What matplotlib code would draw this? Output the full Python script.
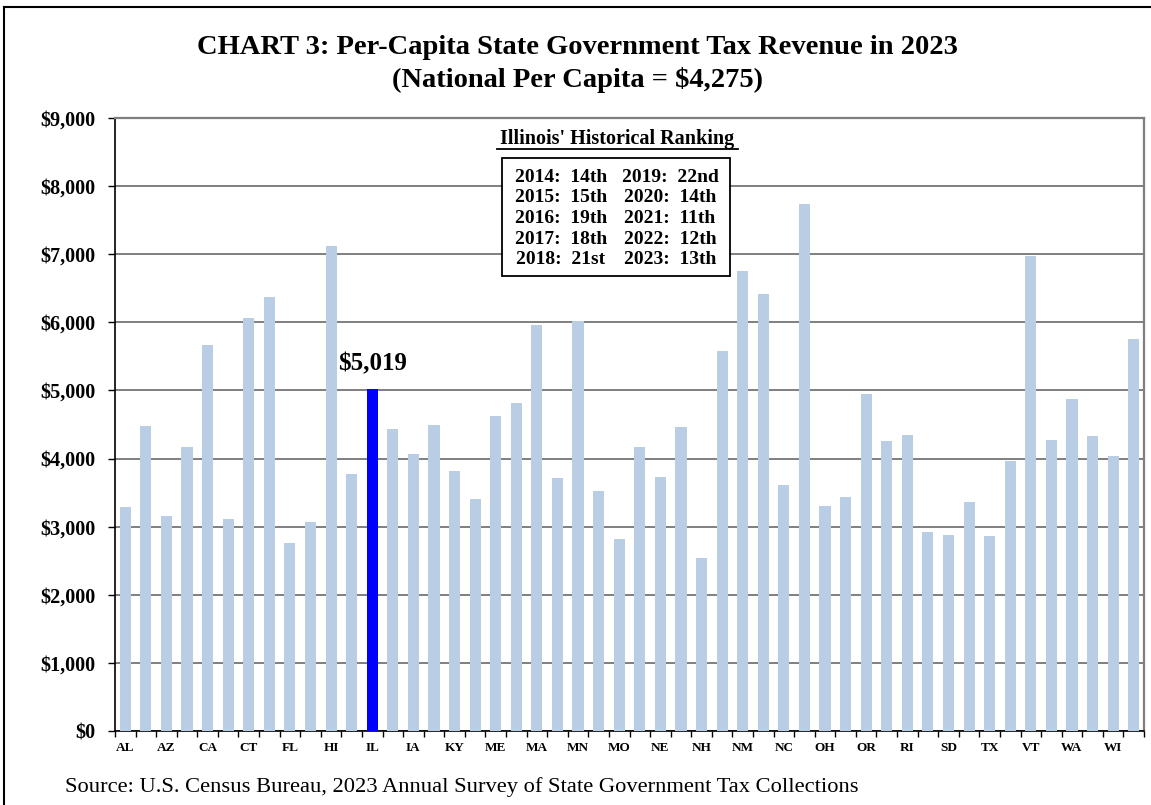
import matplotlib
matplotlib.use("Agg")
import matplotlib.pyplot as plt
from matplotlib.lines import Line2D

states = ["AL","AK","AZ","AR","CA","CO","CT","DE","FL","GA","HI","ID","IL","IN","IA","KS","KY","LA","ME","MD",
          "MA","MI","MN","MS","MO","MT","NE","NV","NH","NJ","NM","NY","NC","ND","OH","OK","OR","PA","RI","SC",
          "SD","TN","TX","UT","VT","VA","WA","WV","WI","WY"]
values = [3290,4475,3160,4172,5674,3106,6070,6373,2754,3071,7117,3771,5019,4431,4060,4486,3815,3404,4632,4823,
          5957,3712,6026,3526,2813,4172,3722,4456,2543,5576,6760,6412,3605,7733,3302,3429,4945,4265,4343,2925,
          2871,3356,2861,3962,6970,4275,4880,4333,4031,5748]
highlight = "IL"
yticks = list(range(0, 9001, 1000))
rank_left = ["2014:  14th", "2015:  15th", "2016:  19th", "2017:  18th", "2018:  21st"]
rank_right = ["2019:  22nd", "2020:  14th", "2021:  11th", "2022:  12th", "2023:  13th"]

SERIF = ["Liberation Serif", "DejaVu Serif"]
plt.rcParams['font.family'] = SERIF

W, H = 1151, 805
fig = plt.figure(figsize=(W/100, H/100), dpi=100)
ax = fig.add_axes([115/W, 1-731/H, (1144-115)/W, (731-118)/H])

x = list(range(len(states)))
colors = ["#0000FF" if s == highlight else "#B9CDE5" for s in states]
ax.bar(x, values, width=0.54, color=colors, edgecolor="none", zorder=3)

ax.set_xlim(-0.5, len(states)-0.5)
ax.set_ylim(0, 9000)
ax.set_yticks(yticks)
ax.set_yticklabels([f"${v:,}" for v in yticks], fontsize=14.5, fontweight="bold")
ax.yaxis.grid(True, color="#7F7F7F", linewidth=1.4, zorder=0)
ax.set_axisbelow(True)

ax.set_xticks(x[::2])
ax.set_xticklabels(states[::2], fontsize=9.5, fontweight="bold")
ax.tick_params(axis="x", which="major", length=0, pad=8)
ax.set_xticks([i - 0.5 for i in range(len(states)+1)], minor=True)
ax.tick_params(axis="x", which="minor", length=4, width=1, direction="out")
ax.tick_params(axis="y", length=5, width=1, direction="out", pad=9)

for side in ["left", "bottom"]:
    ax.spines[side].set_color("black")
    ax.spines[side].set_linewidth(1.2)
for side in ["top", "right"]:
    ax.spines[side].set_color("#7F7F7F")
    ax.spines[side].set_linewidth(1.6)

# highlight label
hi = states.index(highlight)
ax.annotate(f"${values[hi]:,}", xy=(hi, values[hi]), xytext=(0, 10), textcoords="offset points",
            ha="center", va="bottom", fontsize=18, fontweight="bold")

# title
fig.text(577/W, 1-47/H, "CHART 3: Per-Capita State Government Tax Revenue in 2023",
         ha="center", va="center", fontsize=20.5, fontweight="bold")
fig.text(577/W, 1-80/H, "(National Per Capita = $4,275)",
         ha="center", va="center", fontsize=20.5, fontweight="bold")

# ranking box
fig.text(617/W, 1-139/H, "Illinois' Historical Ranking", ha="center", va="center",
         fontsize=14.5, fontweight="bold")
fig.add_artist(Line2D([497/W, 738/W], [1-149/H, 1-149/H], color="black", lw=1.3))
fig.add_artist(plt.Rectangle((502/W, 1-276/H), (730-502)/W, (276-158)/H, transform=fig.transFigure,
                             facecolor="white", edgecolor="black", lw=1.3, zorder=5))
for i, (l, r) in enumerate(zip(rank_left, rank_right)):
    yy = 1 - (177 + i*20.7)/H
    fig.text(561/W, yy, l, ha="center", va="center", fontsize=14, fontweight="bold", zorder=6)
    fig.text(670/W, yy, r, ha="center", va="center", fontsize=14, fontweight="bold", zorder=6)

# source
fig.text(65/W, 1-787/H, "Source: U.S. Census Bureau, 2023 Annual Survey of State Government Tax Collections",
         ha="left", va="center", fontsize=16.2)

# outer frame (partially cropped)
fig.add_artist(Line2D([4/W, 1.0], [1-7/H, 1-7/H], color="black", lw=1.5))
fig.add_artist(Line2D([4/W, 4/W], [0, 1-7/H], color="black", lw=1.5))

fig.savefig("out.png", dpi=100)
